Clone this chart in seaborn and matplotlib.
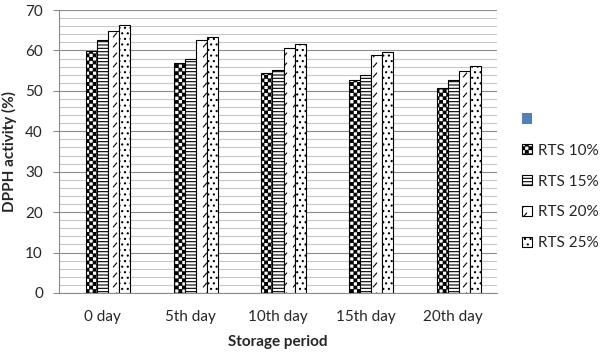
import numpy as np
import pandas as pd
import matplotlib
matplotlib.use("Agg")
import matplotlib.pyplot as plt
import seaborn as sns
from matplotlib import hatch as mhatch
from matplotlib.path import Path
from matplotlib.patches import Patch
from matplotlib.ticker import MultipleLocator

# ---------------- data ----------------
days = ["0 day", "5th day", "10th day", "15th day", "20th day"]
series = [" ", "RTS 10%", "RTS 15%", "RTS 20%", "RTS 25%"]
blank = [np.nan, np.nan, np.nan, np.nan, np.nan]
rts10 = [59.9, 56.8, 54.3, 52.8, 50.6]
rts15 = [62.6, 58.0, 55.2, 53.8, 52.8]
rts20 = [64.7, 62.7, 60.7, 58.9, 54.9]
rts25 = [66.4, 63.4, 61.7, 59.5, 56.2]
y_ticks = [0, 10, 20, 30, 40, 50, 60, 70]

values = [blank, rts10, rts15, rts20, rts25]
df = pd.DataFrame({
    "day": np.repeat([days], len(series), axis=0).ravel(),
    "series": np.repeat(series, len(days)),
    "value": np.concatenate(values),
})

# ------------- custom hatch patterns (checkerboard & short slashes) -------------
class CheckerHatch(mhatch.HatchPatternBase):
    def __init__(self, hatch, density):
        self.n = 28 if "o" in hatch else 0
        self.num_vertices = 5 * (self.n * self.n // 2) if self.n else 0

    def set_vertices_and_codes(self, vertices, codes):
        s = 1.0 / self.n
        d = 0.004
        k = 0
        for i in range(self.n):
            for j in range(self.n):
                if (i + j) % 2 == 0:
                    x, y = i * s + d, j * s + d
                    w = s - 2 * d
                    vertices[k:k + 5] = [(x, y), (x + w, y), (x + w, y + w), (x, y + w), (x, y)]
                    codes[k:k + 5] = [Path.MOVETO, Path.LINETO, Path.LINETO, Path.LINETO, Path.CLOSEPOLY]
                    k += 5


class DashSlashHatch(mhatch.HatchPatternBase):
    def __init__(self, hatch, density):
        self.n = 10 if "O" in hatch else 0
        self.num_vertices = 2 * self.n * self.n

    def set_vertices_and_codes(self, vertices, codes):
        s = 1.0 / self.n
        L = 0.32 * s
        k = 0
        for i in range(self.n):
            for j in range(self.n):
                cx, cy = (i + 0.5) * s, (j + 0.5) * s
                vertices[k] = (cx - L / 2, cy - L * 0.6)
                vertices[k + 1] = (cx + L / 2, cy + L * 0.6)
                codes[k] = Path.MOVETO
                codes[k + 1] = Path.LINETO
                k += 2


mhatch._hatch_types = [
    CheckerHatch if t is mhatch.SmallCircles else
    DashSlashHatch if t is mhatch.LargeCircles else t
    for t in mhatch._hatch_types
]

# ---------------- style ----------------
sns.set_style("white")
plt.rcParams["font.family"] = ["Lato", "DejaVu Sans"]
plt.rcParams["hatch.linewidth"] = 0.8
plt.rcParams["hatch.color"] = "black"

fig = plt.figure(figsize=(6.0, 3.54), dpi=100)
ax = fig.add_axes([59 / 600, 1 - 293 / 354, (497 - 59) / 600, (293 - 10) / 354])

sns.barplot(data=df, x="day", y="value", hue="series", hue_order=series, order=days,
            palette=["white"] * len(series), edgecolor="black", linewidth=0.8,
            width=0.63, errorbar=None, legend=False, ax=ax)

hatch_map = {"RTS 10%": "oooo", "RTS 15%": "-----", "RTS 20%": "O", "RTS 25%": "..."}
named = dict(zip(series, values))
for cont in ax.containers:
    dv = np.asarray(cont.datavalues, dtype=float)
    for name in series[1:]:
        ref = np.asarray(named[name], dtype=float)
        if dv.shape == ref.shape and np.allclose(dv, ref):
            for p in cont.patches:
                p.set_hatch(hatch_map[name])
            break

ax.set_ylim(0, 70)
ax.set_xlim(-0.5, 4.5)
ax.set_yticks(y_ticks)
ax.yaxis.set_minor_locator(MultipleLocator(2))
ax.set_axisbelow(True)
ax.yaxis.grid(True, which="major", color="#8c8c8c", linewidth=0.8)
ax.yaxis.grid(True, which="minor", color="#c8c8c8", linewidth=0.8)
for s in ["top", "right"]:
    ax.spines[s].set_visible(False)
for s in ["left", "bottom"]:
    ax.spines[s].set_color("#8c8c8c")
    ax.spines[s].set_linewidth(0.8)
ax.tick_params(axis="y", which="major", length=4.5, color="#8c8c8c", width=0.8,
               direction="out", pad=7, labelsize=11, left=True)
ax.tick_params(axis="y", which="minor", length=0)
ax.tick_params(axis="x", length=0, pad=12, labelsize=11)

ax.set_xlabel("Storage period", fontsize=11, fontweight="bold", labelpad=8)
ax.set_ylabel("DPPH activity (%)", fontsize=11, fontweight="bold", labelpad=6)

handles = [Patch(facecolor="#4F81BD", edgecolor="none")]
for name in series[1:]:
    handles.append(Patch(facecolor="white", edgecolor="black", linewidth=0.8,
                         hatch=hatch_map[name]))
fig.legend(handles, series, loc="center left", bbox_to_anchor=(522 / 600, 1 - 181.5 / 354),
           frameon=False, fontsize=11, handlelength=0.65, handleheight=0.65,
           handletextpad=0.4, labelspacing=1.1, borderpad=0, borderaxespad=0)

fig.savefig("out.png", dpi=100)
